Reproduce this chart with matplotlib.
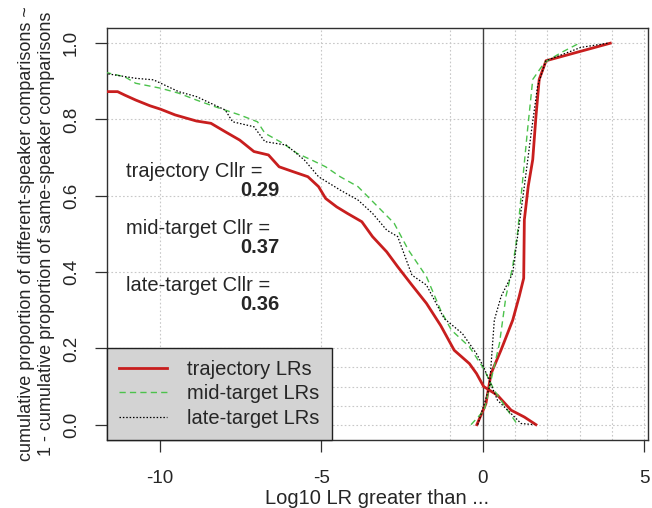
import matplotlib
matplotlib.use("Agg")
import matplotlib.pyplot as plt

# ── data ─────────────────────────────────────────────────────────────────────
# different-speaker curves (descending) and same-speaker curves (ascending)
traj_ds_x = [-12.0, -11.3, -11.08, -10.74, -10.3, -9.97, -9.52, -8.86, -8.41, -7.97,
             -7.52, -7.08, -6.63, -6.3, -5.86, -5.41, -5.08, -4.86, -4.52, -4.19,
             -3.74, -3.41, -2.97, -2.63, -2.19, -1.74, -1.3, -0.88, -0.41, -0.19,
             0.03, 0.46, 0.88, 1.29, 1.65]
traj_ds_y = [0.873, 0.873, 0.864, 0.851, 0.836, 0.827, 0.812, 0.796, 0.79, 0.768,
             0.746, 0.716, 0.707, 0.676, 0.663, 0.650, 0.624, 0.593, 0.571, 0.554,
             0.532, 0.493, 0.453, 0.414, 0.366, 0.318, 0.26, 0.195, 0.16, 0.134,
             0.1, 0.077, 0.038, 0.02, 0.0]
traj_ss_x = [-0.18, 0.1, 0.26, 0.57, 0.93, 1.13, 1.27, 1.29, 1.41, 1.55, 1.65, 1.75, 1.96, 3.95]
traj_ss_y = [0.0, 0.055, 0.134, 0.196, 0.274, 0.336, 0.384, 0.537, 0.625, 0.695, 0.809, 0.905, 0.954, 1.0]

mid_ds_x = [-12.0, -11.08, -10.74, -9.97, -9.41, -8.86, -8.3, -7.52, -6.97, -6.74,
            -6.19, -5.74, -5.3, -4.86, -4.41, -3.86, -3.3, -2.74, -2.3, -1.74,
            -1.3, -0.97, -0.41, 0.03, 0.36, 0.77, 1.08]
mid_ds_y = [0.93, 0.912, 0.895, 0.882, 0.869, 0.851, 0.834, 0.812, 0.794, 0.764,
            0.738, 0.711, 0.694, 0.676, 0.650, 0.624, 0.576, 0.528, 0.458, 0.388,
            0.300, 0.248, 0.204, 0.147, 0.09, 0.038, 0.0]
mid_ss_x = [-0.36, 0.05, 0.26, 0.52, 0.72, 0.93, 1.08, 1.24, 1.39, 1.55, 1.91, 2.42, 2.99]
mid_ss_y = [0.0, 0.038, 0.117, 0.213, 0.336, 0.415, 0.503, 0.643, 0.774, 0.905, 0.949, 0.975, 1.0]

late_ds_x = [-12.0, -10.74, -10.19, -9.41, -8.86, -7.97, -7.74, -7.08, -6.74, -6.08,
             -5.52, -5.08, -4.41, -3.86, -3.41, -2.97, -2.63, -2.19, -1.74, -1.19,
             -0.63, -0.19, 0.03, 0.46, 0.88, 1.19, 1.6]
late_ds_y = [0.925, 0.908, 0.904, 0.873, 0.860, 0.825, 0.794, 0.781, 0.742, 0.733,
             0.694, 0.650, 0.615, 0.589, 0.554, 0.510, 0.493, 0.392, 0.366, 0.278,
             0.239, 0.186, 0.151, 0.064, 0.029, 0.003, 0.0]
late_ss_x = [-0.15, 0.21, 0.36, 0.57, 0.93, 1.08, 1.29, 1.49, 1.70, 1.96, 3.04, 3.87]
late_ss_y = [0.0, 0.099, 0.274, 0.336, 0.397, 0.493, 0.625, 0.757, 0.888, 0.954, 0.989, 1.0]

cllr_names = ["trajectory", "mid-target", "late-target"]
cllr_values = ["0.29", "0.37", "0.36"]
cllr_y = [0.663, 0.514, 0.366]

legend_labels = ["trajectory LRs", "mid-target LRs", "late-target LRs"]
xticks = [-10, -5, 0, 5]
yticks = [0.0, 0.2, 0.4, 0.6, 0.8, 1.0]
grid_x = [-10, -5, -1, 1, 2, 3, 4, 5]
grid_y = [0.0, 0.05, 0.1, 0.15, 0.2, 0.4, 0.6, 0.8, 1.0]

# ── style ────────────────────────────────────────────────────────────────────
RED = "#C81E1E"
GREEN = "#4CC24C"
TXT = "#262626"
plt.rcParams["font.family"] = ["Liberation Sans", "DejaVu Sans"]

fig = plt.figure(figsize=(6.52, 5.08), dpi=100)
ax = fig.add_axes([0.164, 0.134, 0.830, 0.811])

for gx in grid_x:
    ax.axvline(gx, color="#C8C8C8", lw=0.8, ls=(0, (1.5, 2)), zorder=0)
for gy in grid_y:
    ax.axhline(gy, color="#C8C8C8", lw=0.8, ls=(0, (1.5, 2)), zorder=0)
ax.axvline(0, color="#404040", lw=1.0, zorder=1)

red_kw = dict(color=RED, lw=2.0, zorder=3)
green_kw = dict(color=GREEN, lw=1.0, ls=(0, (4.5, 3)), zorder=4)
black_kw = dict(color="black", lw=0.9, ls=(0, (1.2, 1.5)), zorder=5)

l1, = ax.plot(traj_ds_x, traj_ds_y, **red_kw)
ax.plot(traj_ss_x, traj_ss_y, **red_kw)
l2, = ax.plot(mid_ds_x, mid_ds_y, **green_kw)
ax.plot(mid_ss_x, mid_ss_y, **green_kw)
l3, = ax.plot(late_ds_x, late_ds_y, **black_kw)
ax.plot(late_ss_x, late_ss_y, **black_kw)

for name, val, y in zip(cllr_names, cllr_values, cllr_y):
    ax.text(-11.05, y, f"{name} Cllr =", fontsize=14.5, color=TXT,
            ha="left", va="center")
    ax.text(-6.3, y - 0.05, val, fontsize=14.5, color=TXT, fontweight="bold",
            ha="right", va="center")

leg = ax.legend([l1, l2, l3], legend_labels, loc="lower left",
                bbox_to_anchor=(0, 0), borderaxespad=0, fontsize=14.5,
                fancybox=False, framealpha=1, facecolor="#D3D3D3",
                edgecolor="#202020", handlelength=2.4, handletextpad=1.0,
                labelspacing=0.27, borderpad=0.6)
leg.get_frame().set_linewidth(1.0)
for t in leg.get_texts():
    t.set_color(TXT)
leg.set_zorder(10)

ax.set_xlim(-11.63, 5.12)
ax.set_ylim(-0.04, 1.04)
ax.set_xticks(xticks)
ax.set_xticklabels(["-10", "-5", "0", "5"])
ax.set_yticks(yticks)
ax.set_yticklabels([f"{v:.1f}" for v in yticks], rotation=90, va="center")
ax.tick_params(direction="out", length=8.5, width=0.9, colors="#303030",
               labelcolor=TXT, labelsize=13.5, pad=11)
ax.tick_params(axis="x", pad=13.5)
for s in ax.spines.values():
    s.set_color("#303030")
    s.set_linewidth(1.0)

ax.set_xlabel("Log10 LR greater than ...", fontsize=14.5, color=TXT, labelpad=1)
ax.set_ylabel("cumulative proportion of different-speaker comparisons ~\n"
              "1 - cumulative proportion of same-speaker comparisons",
              fontsize=13, color=TXT, labelpad=6, linespacing=1.22)

fig.savefig("out.png", dpi=100)
